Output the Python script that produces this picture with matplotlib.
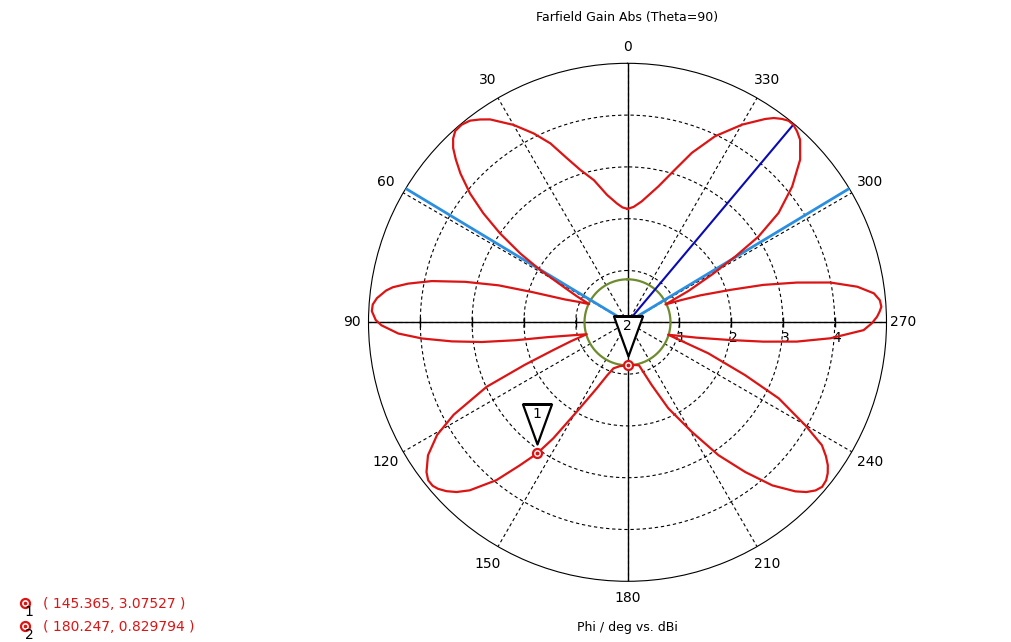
import matplotlib
matplotlib.use('Agg')
import matplotlib.pyplot as plt
from matplotlib.lines import Line2D
from matplotlib.path import Path
import numpy as np

# farfield cut (phi in deg, gain in dBi)
phi_deg = [0, 2.5, 5, 9.1, 13.3, 17.2, 20.2, 23.3, 26.4, 30, 34.1, 36, 38, 40, 42, 43.5,
           45, 46.5, 48.3, 50.7, 52.9, 55.1, 57.3, 59.1, 61.0, 62.8, 64.6,
           67.3, 69.9, 72.4, 74, 76, 78.1, 80, 81.5, 82.5, 84.5, 86, 87.5, 89.5, 90.7,
           92.8, 94.5, 96.2, 97.7, 99.1, 100.6, 102.8, 106.3,
           108.5, 110.5, 112.5, 114.6, 118, 120.6, 123.7, 126.7, 128.4, 130, 131.3,
           133, 134.8, 136.8, 140.3, 143, 145.4, 147.4, 150.4, 155, 159, 163, 170,
           180.25, 188, 195, 201.1, 205.4, 210.4, 214.4, 218.2, 221.6, 224.8, 226.5,
           228.2, 229.8, 231.5, 233, 234.5, 236, 237.7, 239.9, 243.3, 245.8, 249, 253,
           255.5, 257.5, 260.2, 261.9, 263.5, 265.5, 268.1, 269.8, 271.3, 272.4,
           273.5, 275, 276.7, 278.8, 281.1, 283.2, 285.4, 287.5, 290.3, 292.5, 295.2,
           297.2, 299.5, 301.4, 303.2, 305.9, 309.5, 313.3, 315.2, 316.6, 318.4, 320,
           321.4, 322.8, 324.4, 325.9, 329.9, 334.8, 339.2, 342.7, 347.2, 353.3, 357,
           360]
gain_dbi = [2.19, 2.22, 2.30, 2.49, 2.82, 3.08, 3.37, 3.76, 4.07, 4.40, 4.73, 4.84, 4.94, 4.98, 4.97, 4.89,
            4.76, 4.57, 4.32, 3.93, 3.49, 3.00, 2.46, 1.96, 1.41, 1.10, 0.82,
            1.02, 1.28, 1.93, 2.59, 3.23, 3.86, 4.30, 4.58, 4.70, 4.86, 4.93, 4.94, 4.86, 4.75,
            4.43, 3.98, 3.41, 2.84, 2.19, 1.55, 1.15, 0.82,
            1.15, 1.53, 2.15, 2.99, 3.80, 4.27, 4.63, 4.84, 4.91, 4.91, 4.87,
            4.78, 4.65, 4.45, 3.96, 3.46, 3.08, 2.66, 1.99, 1.41, 1.10, 0.93, 0.86,
            0.83, 0.83, 0.86, 1.30, 1.84, 2.45, 3.11, 3.68, 4.21, 4.60, 4.76,
            4.87, 4.92, 4.90, 4.84, 4.75, 4.62, 4.44, 3.97, 3.27, 2.49, 1.67, 0.82,
            1.05, 1.37, 2.01, 2.65, 3.29, 3.93, 4.56, 4.72, 4.82, 4.87,
            4.91, 4.89, 4.79, 4.49, 3.99, 3.36, 2.72, 2.08, 1.50, 1.12, 0.81,
            1.32, 1.88, 2.44, 3.02, 3.60, 4.12, 4.58, 4.73, 4.85, 4.93, 4.98,
            4.98, 4.93, 4.85, 4.74, 4.41, 3.97, 3.50, 3.09, 2.69, 2.35, 2.23,
            2.19]

marker_phi = [145.365, 180.247]
marker_gain = [3.07527, 0.829794]
marker_text = ['( 145.365, 3.07527 )', '( 180.247, 0.829794 )']
main_lobe_phi = 320.0
beam_edge_phi = [58.9, 301.1]
level_circle = 0.83
r_max = 5
r_ticks = [1, 2, 3, 4]
angle_ticks = np.arange(0, 360, 30)

red = '#dc1414'
W, H = 1012, 642

fig = plt.figure(figsize=(W / 100, H / 100), dpi=100)
ax = fig.add_axes([(627.5 - 259) / W, (H - 322.3 - 259) / H, 518 / W, 518 / H],
                  projection='polar')
ax.set_theta_zero_location('N')
ax.set_theta_direction(1)
ax.set_ylim(0, r_max)
ax.set_rgrids(r_ticks, labels=[''] * len(r_ticks))
ax.set_thetagrids(angle_ticks, labels=[''] * len(angle_ticks))
ax.grid(True, color='black', linestyle=(0, (3, 2.5)), linewidth=0.8)
ax.spines['polar'].set_linewidth(0.8)

# angle labels just outside the rim
for a in angle_ticks:
    t = np.radians(a)
    ax.text(t, r_max * (1.064 + 0.018 * abs(np.sin(2 * t))), str(a), ha='center',
            va='center', fontsize=10, clip_on=False)

# solid main axes through the centre
for a in [0, 90, 180, 270]:
    ax.plot([np.radians(a)] * 2, [0, r_max], color='black', lw=1.0, zorder=2)

# radial scale ticks and numbers on the 90/270 axis
for a in [90, 270]:
    ax.plot(np.radians([a] * len(r_ticks)), r_ticks, ls='none', marker='|',
            ms=7, mew=1.0, color='black', zorder=2, clip_on=False)
for v in r_ticks:
    ax.annotate(str(v), xy=(np.radians(270), v), xytext=(2, -16),
                textcoords='offset pixels', ha='center', va='center', fontsize=10)

theta_full = np.radians(np.linspace(0, 360, 361))
ax.plot(theta_full, np.full_like(theta_full, level_circle), color='#6e8b2e', lw=1.6, zorder=3)

for a in beam_edge_phi:
    ax.plot([np.radians(a)] * 2, [0, r_max], color='#2a8fe0', lw=2.0, zorder=3)
ax.plot([np.radians(main_lobe_phi)] * 2, [0, r_max], color='#0a0ab4', lw=1.5, zorder=3)

ax.plot(np.radians(phi_deg), gain_dbi, color=red, lw=1.6, zorder=4)

# markers on the curve
th_m = np.radians(marker_phi)
ax.plot(th_m, marker_gain, ls='none', marker='o', ms=6.5, mfc='white', mec=red,
        mew=1.6, zorder=5)
ax.plot(th_m, marker_gain, ls='none', marker='o', ms=1.8, color=red, zorder=6)

# triangle labels pointing at the markers
tri = Path([(0, 9), (-14.5, 49), (14.5, 49), (0, 9)], closed=True)
ax.plot(th_m, marker_gain, ls='none', marker=tri, ms=49 * 2 * 72 / 100,
        mfc='white', mec='black', mew=1.6, zorder=7)
for i, (t, g) in enumerate(zip(th_m, marker_gain)):
    ax.annotate(str(i + 1), xy=(t, g), xytext=(0, 39), textcoords='offset pixels',
                ha='center', va='center', fontsize=10, zorder=8)

fig.text(627.5 / W, 1 - 18 / H, 'Farfield Gain Abs (Theta=90)', ha='center',
         va='center', fontsize=9)
fig.text(627.5 / W, 1 - 628 / H, 'Phi / deg vs. dBi', ha='center', va='center',
         fontsize=9)

# marker list, bottom left
for i, (txt, yy) in enumerate(zip(marker_text, [603, 626])):
    fig.add_artist(Line2D([25 / W], [1 - yy / H], transform=fig.transFigure,
                          marker='o', ms=6.5, mfc='white', mec=red, mew=1.6))
    fig.add_artist(Line2D([25 / W], [1 - yy / H], transform=fig.transFigure,
                          marker='o', ms=1.6, color=red))
    fig.text(29 / W, 1 - (yy + 9) / H, str(i + 1), ha='center', va='center',
             fontsize=10, color='black')
    fig.text(43 / W, 1 - (yy + 1) / H, txt, ha='left', va='center', fontsize=10,
             color=red)

fig.savefig('out.png', dpi=100, facecolor='white')
